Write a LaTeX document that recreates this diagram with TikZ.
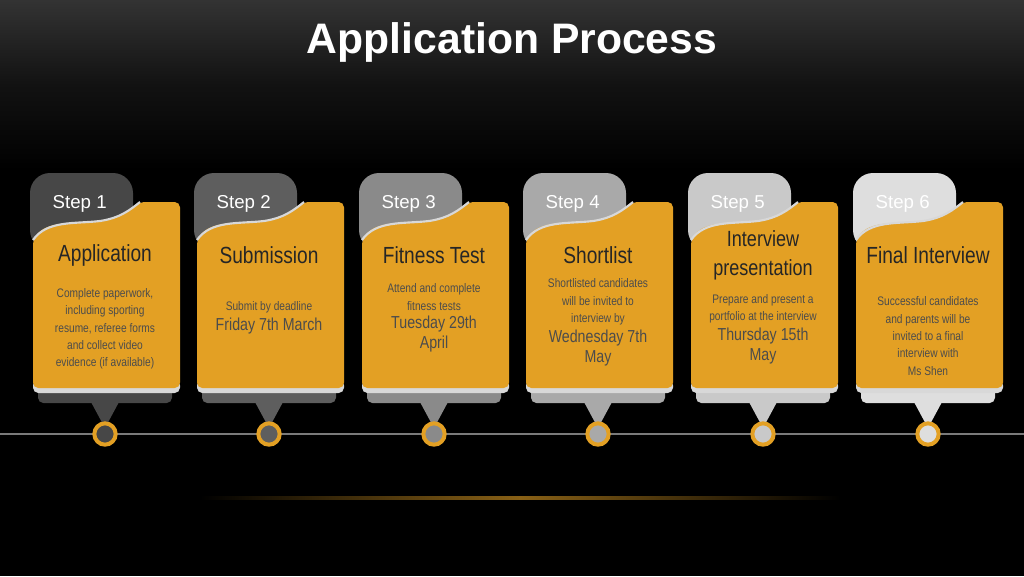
\documentclass[tikz,border=0pt]{standalone}
\usepackage{fontspec}
\setmainfont{Liberation Sans}
\newfontfamily\narrow[FakeStretch=0.82]{Liberation Sans}
\usetikzlibrary{positioning}
\definecolor{cardorange}{HTML}{E3A024}
\definecolor{edgegray}{HTML}{D8D8D8}
\definecolor{railgray}{HTML}{7A7A7A}
\definecolor{tabA}{HTML}{474747}
\definecolor{tabB}{HTML}{5E5E5E}
\definecolor{tabC}{HTML}{8A8A8A}
\definecolor{tabD}{HTML}{A9A9A9}
\definecolor{tabE}{HTML}{C9C9C9}
\definecolor{tabF}{HTML}{DEDEDE}
\tikzset{
    steptab/.style={
        font=\fontsize{14}{16}\selectfont,
        text=white,
        anchor=west
    },
    cardtitle/.style={
        font=\narrow\fontsize{17.5}{19}\selectfont,
        text=black!85,
        align=center
    },
    carddetail/.style={
        font=\narrow\fontsize{9.3}{13}\selectfont,
        text=black!70,
        align=center
    },
    carddate/.style={
        font=\narrow\fontsize{13}{15}\selectfont,
        text=black!70,
        align=center
    },
    marker/.style={
        circle,
        draw=cardorange,
        line width=3pt,
        minimum size=16pt,
        inner sep=0pt
    }
}
% one card: centre x, tab colour, number
\newcommand{\stepcard}[3]{
    \fill[#2, rounded corners=15pt] (#1-75,173) rectangle (#1+28,250);
    \fill[#2, rounded corners=4pt] (#1-67,385) rectangle (#1+67,403);
    \fill[#2] (#1-14,402) -- (#1+14,402) -- (#1,428) -- cycle;
    \fill[edgegray, rounded corners=4pt] (#1-72,380) rectangle (#1+75,393);
    \fill[cardorange, rounded corners=4pt]
        (#1-72,388) -- (#1-72,240)
        .. controls (#1-58,220) and (#1-30,224) .. (#1-5,221)
        .. controls (#1+15,218) and (#1+25,210) .. (#1+35,202)
        -- (#1+75,202) -- (#1+75,388) -- cycle;
    \draw[edgegray, line width=1.6pt]
        (#1-72,240)
        .. controls (#1-58,220) and (#1-30,224) .. (#1-5,221)
        .. controls (#1+15,218) and (#1+25,210) .. (#1+35,202);
    \node[steptab] (tab#3) at (#1-57,204) {Step #3};
    \node[marker, fill=#2] (dot#3) at (#1,434) {};
}
\begin{document}
\begin{tikzpicture}[x=0.75pt, y=-0.75pt]
    \shade[top color=black!80, bottom color=black, middle color=black!93]
        (0,0) rectangle (1024,170);
    \fill[black] (0,170) rectangle (1024,576);
    \useasboundingbox (0,0) rectangle (1024,576);

    \node[font=\bfseries\fontsize{32}{34}\selectfont, text=white] (title)
        at (512,42) {Application Process};

    \draw[railgray, line width=1.5pt] (0,434) -- (1024,434);
    \shade[left color=black, right color=black, middle color=cardorange!60!black]
        (200,496) rectangle (840,499);

    \stepcard{105}{tabA}{1}
    \stepcard{269}{tabB}{2}
    \stepcard{434}{tabC}{3}
    \stepcard{598}{tabD}{4}
    \stepcard{763}{tabE}{5}
    \stepcard{928}{tabF}{6}

    % titles
    \node[cardtitle] (name1) at (105,255) {Application};
    \node[cardtitle] (name2) at (269,255) {Submission};
    \node[cardtitle] (name3) at (434,255) {Fitness Test};
    \node[cardtitle] (name4) at (598,255) {Shortlist};
    \node[cardtitle, font=\narrow\fontsize{16.5}{21.5}\selectfont] (name5)
        at (763,255) {Interview\\presentation};
    \node[cardtitle] (name6) at (928,255) {Final Interview};

    % details
    \node[carddetail] (info1) at (105,329)
        {Complete paperwork,\\including sporting\\resume, referee forms\\and collect video\\evidence (if available)};
    \node[carddetail] (info2) at (269,307) {Submit by deadline};
    \node[carddate] (date2) at (269,326) {Friday 7th March};
    \node[carddetail] (info3) at (434,297) {Attend and complete\\fitness tests};
    \node[carddate] (date3) at (434,334) {Tuesday 29th\\April};
    \node[carddetail] (info4) at (598,302) {Shortlisted candidates\\will be invited to\\interview by};
    \node[carddate] (date4) at (598,348) {Wednesday 7th\\May};
    \node[carddetail] (info5) at (763,309) {Prepare and present a\\portfolio at the interview};
    \node[carddate] (date5) at (763,346) {Thursday 15th\\May};
    \node[carddetail] (info6) at (928,336)
        {Successful candidates\\and parents will be\\invited to a final\\interview with\\Ms Shen};
\end{tikzpicture}
\end{document}
